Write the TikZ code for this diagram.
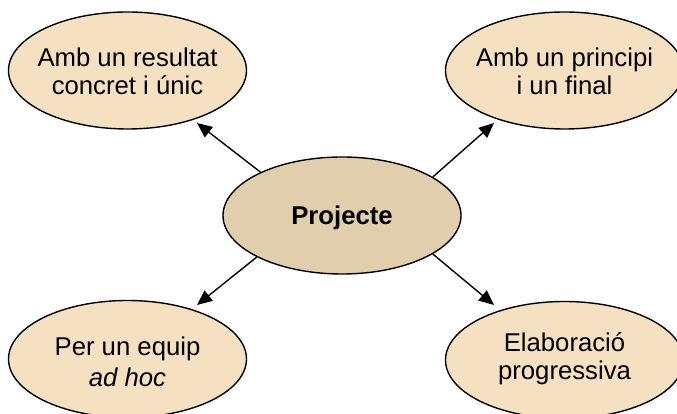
\documentclass[tikz,border=0pt]{standalone}
\usepackage{fontspec}
\setmainfont{Liberation Sans}
\usetikzlibrary{shapes.geometric,arrows.meta}
\definecolor{outerfill}{HTML}{F5E1C1}
\definecolor{centerfill}{HTML}{E1CEAD}
\newcommand{\bubtext}[2]{\makebox[0pt][c]{\smash{\raisebox{#1}{\begin{tabular}[t]{@{}c@{}}#2\end{tabular}}}}}
\tikzset{
  bubble/.style={ellipse, draw=black, line width=1.4pt, fill=outerfill,
    minimum width=238pt, minimum height=117pt, inner sep=0pt,
    font=\fontsize{25.7}{28.3}\selectfont},
  hub/.style={bubble, fill=centerfill, font=\fontsize{25.7}{28.3}\selectfont\bfseries},
  arr/.style={line width=1.4pt, -{Triangle[length=15pt,width=13pt]}}
}
\begin{document}
\begin{tikzpicture}[x=1pt,y=1pt]
\useasboundingbox (0,0) rectangle (677,414);
\node[bubble] (tl) at (127.5,343.5) {\bubtext{3.8pt}{Amb un resultat\\concret i únic}};
\node[bubble] (tr) at (564.5,343.5) {\bubtext{3.8pt}{Amb un principi\\i un final}};
\node[bubble] (bl) at (127.5,55) {\bubtext{3pt}{Per un equip\\[2.4pt]\itshape ad hoc}};
\node[bubble] (br) at (564.5,54) {\bubtext{8.3pt}{Elaboració\\progressiva}};
\node[hub] (c) at (342,198.5) {\makebox[0pt][c]{\smash{\raisebox{-8.8pt}{Projecte}}}};
\coordinate (tlend) at (197,291);
\coordinate (trend) at (494,291);
\coordinate (blend) at (197,109);
\coordinate (brend) at (494,109);
\draw[arr] (c.152.6) -- (tlend);
\draw[arr] (c.23.2) -- (trend);
\draw[arr] (c.206) -- (blend);
\draw[arr] (c.337.5) -- (brend);
\end{tikzpicture}
\end{document}
